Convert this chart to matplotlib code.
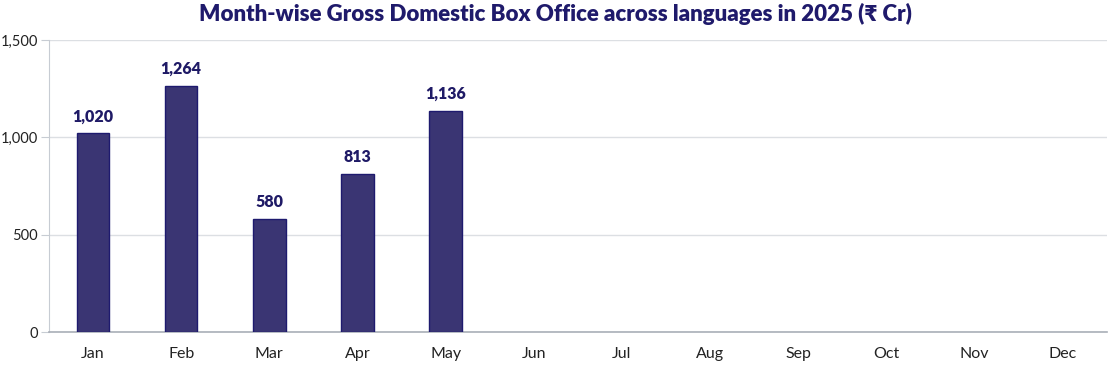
import matplotlib
matplotlib.use("Agg")
import matplotlib.pyplot as plt
from matplotlib.ticker import FuncFormatter

months = ["Jan", "Feb", "Mar", "Apr", "May", "Jun", "Jul", "Aug", "Sep", "Oct", "Nov", "Dec"]
values = [1020, 1264, 580, 813, 1136]
yticks = [0, 500, 1000, 1500]
title = "Month-wise Gross Domestic Box Office across languages in 2025 (₹ Cr)"

plt.rcParams['font.family'] = ['Lato', 'DejaVu Sans']

fig = plt.figure(figsize=(11.1, 3.65), dpi=100)
ax = fig.add_axes([0.0441, 0.0904, 0.9530, 0.8000])

xs = list(range(len(values)))
ax.bar(xs, values, width=0.37, color="#3a3573", edgecolor="#1e1a6e", linewidth=1, zorder=3)
for x, v in zip(xs, values):
    ax.text(x, v + 45, f"{v:,}", ha="center", va="bottom", fontsize=11.5,
            fontweight="heavy", color="#1f1a66")

ax.set_xlim(-0.5, len(months) - 0.5)
ax.set_ylim(0, 1500)
ax.set_xticks(range(len(months)))
ax.set_xticklabels(months)
ax.set_yticks(yticks)
ax.yaxis.set_major_formatter(FuncFormatter(lambda v, p: f"{int(v):,}"))
ax.grid(axis="y", color="#dcdfe3", linewidth=1, zorder=0)
for s in ["top", "right"]:
    ax.spines[s].set_visible(False)
ax.spines["left"].set_color("#c7ccd3")
ax.spines["bottom"].set_color("#a9afb8")
ax.spines["bottom"].set_linewidth(1.2)
ax.tick_params(axis="x", length=0, pad=11, labelsize=11.5, colors="#222222")
ax.tick_params(axis="y", length=6, color="#c7ccd3", pad=2, labelsize=10.5, colors="#222222")

fig.text(0.5, 0.962, title, ha="center", va="center", fontsize=16,
         fontweight="heavy", color="#1f1a6b")

fig.savefig("out.png", dpi=100)
